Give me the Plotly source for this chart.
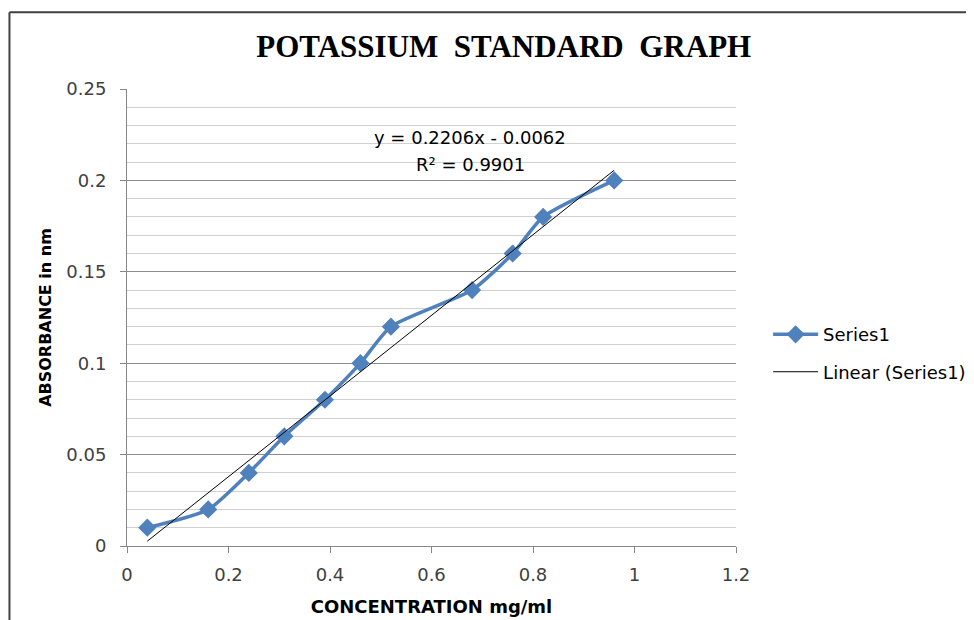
import plotly.graph_objects as go

# ---- data ----
concentration = [0.04, 0.16, 0.24, 0.31, 0.39, 0.46, 0.52, 0.68, 0.76, 0.82, 0.96]
absorbance = [0.01, 0.02, 0.04, 0.06, 0.08, 0.10, 0.12, 0.14, 0.16, 0.18, 0.20]
slope = 0.2206
intercept = -0.0062
r_squared = 0.9901
x_tick_vals = [0, 0.2, 0.4, 0.6, 0.8, 1.0, 1.2]
x_tick_text = ["0", "0.2", "0.4", "0.6", "0.8", "1", "1.2"]
y_tick_vals = [0, 0.05, 0.10, 0.15, 0.20, 0.25]
y_tick_text = ["0", "0.05", "0.1", "0.15", "0.2", "0.25"]

trend_x = [min(concentration), max(concentration)]
trend_y = [slope * v + intercept for v in trend_x]

BLUE = "#4F81BD"
FONT = "DejaVu Sans, sans-serif"

fig = go.Figure()
fig.add_trace(go.Scatter(
    x=concentration, y=absorbance, name="Series1",
    mode="lines+markers", legendgroup="a",
    line=dict(color=BLUE, width=3.5, shape="spline", smoothing=0.6),
    marker=dict(symbol="diamond", size=14, color=BLUE),
))
fig.add_trace(go.Scatter(
    x=trend_x, y=trend_y, name="Linear (Series1)",
    mode="lines", legendgroup="b",
    line=dict(color="#000000", width=1),
))

fig.update_layout(
    width=974, height=620,
    margin=dict(l=119, r=245, t=81, b=82),
    paper_bgcolor="white", plot_bgcolor="white",
    font=dict(family=FONT, size=18, color="#404040"),
    title=dict(
        text="<b>POTASSIUM  STANDARD  GRAPH</b>",
        font=dict(family="'Liberation Serif', 'Times New Roman', serif", size=31, color="#000000"),
        xref="container", x=0.509, xanchor="center",
        yref="container", y=0.939, yanchor="middle",
    ),
    showlegend=True,
    legend=dict(
        x=1.051, xanchor="left", y=0.422, yanchor="middle",
        font=dict(family=FONT, size=18, color="#000000"),
        tracegroupgap=11, traceorder="grouped",
        itemwidth=45, bgcolor="rgba(0,0,0,0)",
    ),
    xaxis=dict(
        range=[0, 1.2], tickmode="array", tickvals=x_tick_vals, ticktext=x_tick_text,
        showgrid=False, zeroline=False,
        showline=True, linecolor="#868686", linewidth=1,
        ticks="outside", ticklen=6, tickcolor="#868686",
        ticklabelstandoff=6,
        tickfont=dict(family=FONT, size=18, color="#404040"),
        title=dict(text="<b>CONCENTRATION mg/ml</b>", font=dict(family=FONT, size=18, color="#000000"), standoff=16),
    ),
    yaxis=dict(
        range=[0, 0.25], tickmode="array", tickvals=y_tick_vals, ticktext=y_tick_text,
        showgrid=True, gridcolor="#8C8C8C", gridwidth=1, zeroline=False,
        showline=True, linecolor="#868686", linewidth=1,
        ticks="outside", ticklen=6, tickcolor="#868686",
        ticklabelstandoff=10,
        tickfont=dict(family=FONT, size=18, color="#404040"),
        minor=dict(dtick=0.01, showgrid=True, gridcolor="#D0D0D0", gridwidth=1, ticks=""),
        title=dict(text="<b>ABSORBANCE in nm</b>", font=dict(family=FONT, size=16, color="#000000"), standoff=10),
    ),
)

fig.add_annotation(
    xref="paper", yref="paper", x=0.564, y=0.893, xanchor="center", yanchor="middle",
    text="y = 0.2206x - 0.0062", showarrow=False,
    font=dict(family=FONT, size=18, color="#000000"),
)
fig.add_annotation(
    xref="paper", yref="paper", x=0.564, y=0.834, xanchor="center", yanchor="middle",
    text="R² = 0.9901", showarrow=False,
    font=dict(family=FONT, size=18, color="#000000"),
)

# outer chart border (only the left and top edges are visible in the crop)
fig.add_shape(type="line", xref="paper", yref="paper",
              x0=-0.193, x1=2.0, y0=1.168, y1=1.168, line=dict(color="#404040", width=2))
fig.add_shape(type="line", xref="paper", yref="paper",
              x0=-0.193, x1=-0.193, y0=-1.0, y1=1.168, line=dict(color="#404040", width=2))

fig.write_html("out.html")
